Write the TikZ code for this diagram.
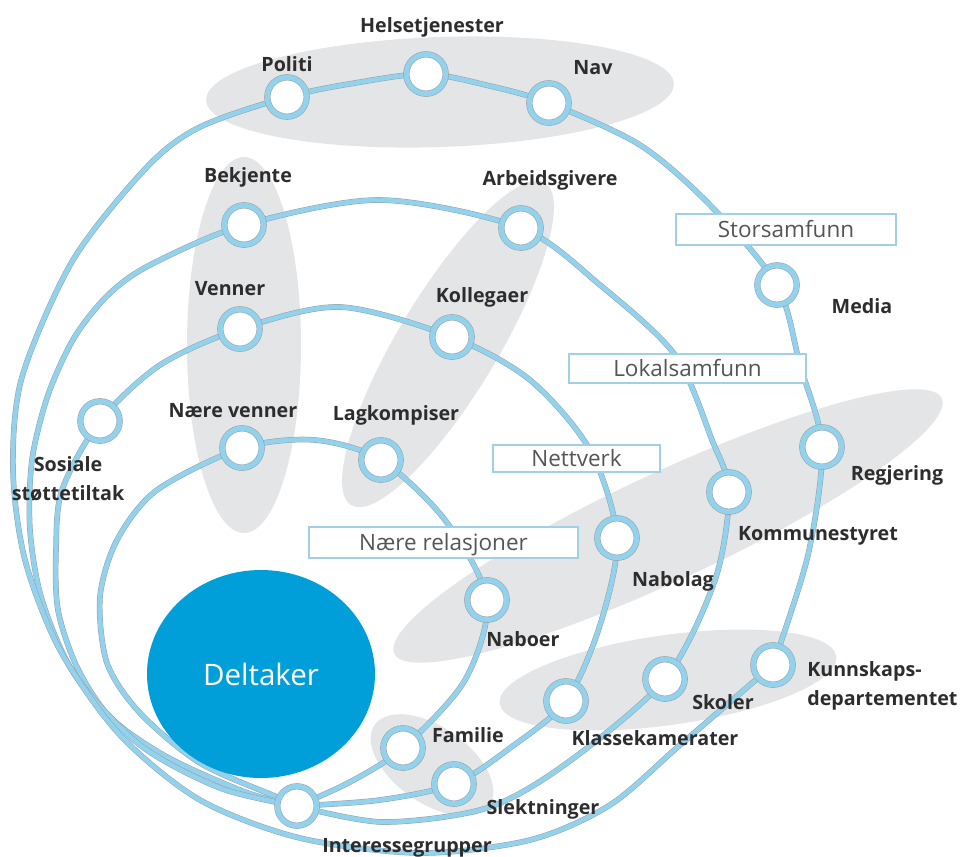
\documentclass[tikz,border=0pt]{standalone}
\usepackage{fontspec}
\setmainfont{Open Sans}
\usepackage{tikz}
\usepackage{xcolor}

\definecolor{lineblue}{RGB}{146,210,237}
\definecolor{ringgray}{RGB}{150,160,165}
\definecolor{blobgray}{RGB}{228,229,231}
\definecolor{deltblue}{RGB}{0,159,218}
\definecolor{boxblue}{RGB}{160,208,228}
\definecolor{labelgray}{RGB}{45,45,45}
\definecolor{boxtext}{RGB}{85,85,85}

\pgfdeclarelayer{shade}
\pgfdeclarelayer{rings}
\pgfsetlayers{shade,rings,main}

\begin{document}
\begin{tikzpicture}[x=0.025cm, y=-0.025cm,
    stop/.style={circle, fill=white, draw=ringgray, line width=0.4pt,
        double=lineblue, double distance=3.6pt, minimum size=28pt, inner sep=0pt},
    ring/.style={draw=ringgray, line width=0.35pt, double=lineblue, double distance=3.3pt},
    lbl/.style={font=\fontsize{14}{20.5}\selectfont\bfseries, text=labelgray,
        inner sep=0pt, text height=10pt, text depth=0pt},
    box/.style={draw=boxblue, fill=white, line width=0.8pt, text=boxtext,
        font=\fontsize{16}{18}\selectfont, inner sep=0pt, text height=11.5pt, text depth=0pt},
    blob/.style={fill=blobgray}]
    \useasboundingbox (0,0) rectangle (966,856);

    % grey groupings
    \begin{pgfonlayer}{shade}
        \fill[blob] (440,92) ellipse [x radius=234, y radius=55, rotate=2];
        \fill[blob] (244,345) ellipse [x radius=57, y radius=188];
        \fill[blob] (448,344) ellipse [x radius=188, y radius=50, rotate=59];
        \fill[blob] (668,526) ellipse [x radius=302, y radius=54, rotate=25];
        \fill[blob] (668,680) ellipse [x radius=170, y radius=45, rotate=8];
        \fill[blob] (432,765) ellipse [x radius=70, y radius=38, rotate=-35];
    \end{pgfonlayer}

    % Deltaker
    \fill[deltblue] (261,674) ellipse (114 and 104);
    \node[text=white, font=\fontsize{21}{24}\selectfont, inner sep=0pt,
        text height=15pt, text depth=0pt] (dk) at (261,675) {Deltaker};

    % stops
    \node[stop] (ig) at (297,806) {};
    \node[stop] (fa) at (403,748) {};
    \node[stop] (sl) at (454,784) {};
    \node[stop] (kk) at (566,701) {};
    \node[stop] (sk) at (665,679) {};
    \node[stop] (kd) at (773,665) {};
    \node[stop] (nb) at (487,600) {};
    \node[stop] (lk) at (381,460) {};
    \node[stop] (nv) at (242,448) {};
    \node[stop] (ss) at (100,421) {};
    \node[stop] (ve) at (240,329) {};
    \node[stop] (ko) at (452,337) {};
    \node[stop] (nl) at (617,538) {};
    \node[stop] (be) at (244,225) {};
    \node[stop] (ag) at (521,228) {};
    \node[stop] (ks) at (729,492) {};
    \node[stop] (po) at (287,97) {};
    \node[stop] (he) at (426,74) {};
    \node[stop] (na) at (549,103) {};
    \node[stop] (me) at (777,285) {};
    \node[stop] (re) at (822,447) {};

    % rings
    \begin{pgfonlayer}{rings}
        % Naere relasjoner
        \draw[ring] plot[smooth] coordinates {(ig) (277,797) (200,763) (140,713)
            (107,663) (100,597) (117,540) (157,490) (nv) (315,440) (lk) (445,520)
            (nb) (465,680) (fa) (350,782) (ig)};
        % Nettverk
        \draw[ring] plot[smooth] coordinates {(ig) (245,792) (167,757) (110,717)
            (77,667) (58,610) (56,550) (62,490) (ss) (160,365) (ve) (340,307) (ko)
            (530,380) (590,450) (nl) (600,625) (kk) (510,748) (sl) (380,800) (ig)};
        % Lokalsamfunn
        \draw[ring] plot[smooth] coordinates {(ig) (220,788) (140,745) (75,675)
            (42,600) (30,530) (32,460) (48,395) (74,338) (108,295) (150,265) (be)
            (380,200) (ag) (600,285) (675,355) (712,440) (ks) (715,580) (sk)
            (567,763) (487,808) (383,822) (ig)};
        % Storsamfunn
        \draw[ring] plot[smooth] coordinates {(kd) (680,745) (610,805) (530,840)
            (420,853) (300,838) (200,800) (120,735) (60,650) (25,560) (13,470)
            (22,377) (73,260) (147,167) (200,127) (po) (355,83) (he) (490,86) (na)
            (640,145) (710,205) (me) (800,365) (re) (808,555) (kd)};
    \end{pgfonlayer}

    % level boxes
    \node[box, minimum width=5.5cm, minimum height=0.775cm] (st-b) at (786,229.5) {Storsamfunn};
    \node[box, minimum width=5.925cm, minimum height=0.725cm] (lo-b) at (687.5,368.5) {Lokalsamfunn};
    \node[box, minimum width=4.175cm, minimum height=0.675cm] (ne-b) at (576.5,458.5) {Nettverk};
    \node[box, minimum width=6.725cm, minimum height=0.775cm] (nr-b) at (443.5,542.5) {Nære relasjoner};

    % labels
    \node[lbl] (po-l) at (287,64) {Politi};
    \node[lbl] (he-l) at (432,25) {Helsetjenester};
    \node[lbl] (na-l) at (593,67) {Nav};
    \node[lbl] (me-l) at (862,306) {Media};
    \node[lbl] (re-l) at (897,473) {Regjering};
    \node[lbl] (ks-l) at (818,533) {Kommunestyret};
    \node[lbl] (be-l) at (248,175) {Bekjente};
    \node[lbl] (ag-l) at (550,178) {Arbeidsgivere};
    \node[lbl] (ve-l) at (230,288) {Venner};
    \node[lbl] (ko-l) at (482,295) {Kollegaer};
    \node[lbl] (nv-l) at (233,410) {Nære venner};
    \node[lbl] (lk-l) at (396,413) {Lagkompiser};
    \node[lbl] (nl-l) at (673,579) {Nabolag};
    \node[lbl] (nb-l) at (523,639) {Naboer};
    \node[lbl] (fa-l) at (468,735) {Familie};
    \node[lbl] (kk-l) at (655,738) {Klassekamerater};
    \node[lbl] (sk-l) at (723,702) {Skoler};
    \node[lbl] (sl-l) at (543,807) {Slektninger};
    \node[lbl] (ig-l) at (407,845) {Interessegrupper};
    \node[lbl, align=center, text height=, text depth=] (ss-l) at (68,479) {Sosiale\\støttetiltak};
    \node[lbl, align=left, anchor=west, text height=, text depth=] (kd-l) at (807,686) {Kunnskaps-\\departementet};
\end{tikzpicture}
\end{document}
